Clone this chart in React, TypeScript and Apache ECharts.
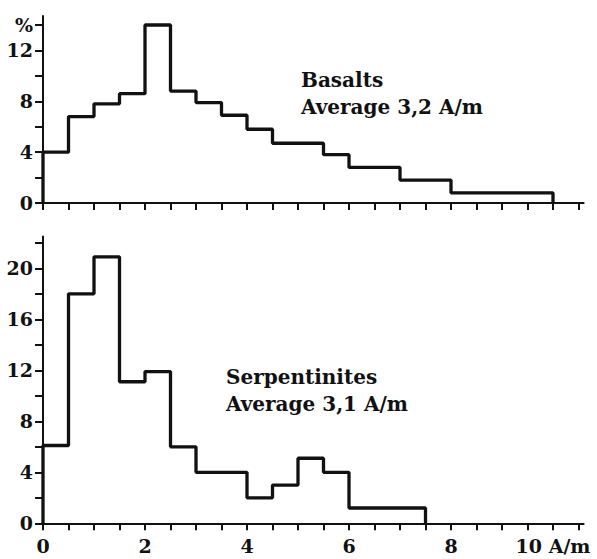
import React, { useEffect, useRef } from 'react';
import * as echarts from 'echarts';

// Axis ticks and labels
const xTickValues = [0, 0.5, 1, 1.5, 2, 2.5, 3, 3.5, 4, 4.5, 5, 5.5, 6, 6.5, 7, 7.5, 8, 8.5, 9, 9.5, 10, 10.5];
const xLabelValues = [0, 2, 4, 6, 8, 10];
const topYTicks = [0, 2, 4, 6, 8, 10, 12, 14];
const topYLabels = [0, 4, 8, 12, 14];
const bottomYTicks = [0, 2, 4, 6, 8, 10, 12, 14, 16, 18, 20, 22];
const bottomYLabels = [0, 4, 8, 12, 16, 20];

// Basalts histogram (bin left edges, last right edge, percentages)
const basaltEdges = [0, 0.5, 1, 1.5, 2, 2.5, 3, 3.5, 4, 4.5, 5.5, 6, 7, 8];
const basaltEnd = 10;
const basaltValues = [4, 6.8, 7.8, 8.6, 14, 8.8, 7.9, 6.9, 5.8, 4.7, 3.8, 2.8, 1.8, 0.8];

// Serpentinites histogram
const serpEdges = [0, 0.5, 1, 1.5, 2, 2.5, 3, 4, 4.5, 5, 5.5, 6];
const serpEnd = 7.5;
const serpValues = [6.1, 18, 20.9, 11.1, 11.9, 6, 4, 2, 3, 5.1, 4, 1.2];

const FONT = 'DejaVu Serif';
const INK = '#111111';

function stepData(edges: number[], values: number[], end: number) {
  const d: number[][] = [[edges[0], 0]];
  edges.forEach((e, i) => d.push([e, values[i]]));
  d.push([end, values[values.length - 1]]);
  d.push([end, 0]);
  return d;
}

export default function App() {
  const ref = useRef<HTMLDivElement>(null);
  useEffect(() => {
    document.body.style.margin = '0';
    if (!ref.current) return;
    const chart = echarts.init(ref.current, undefined, { renderer: 'svg' });
    const axisLine = { show: true, onZero: false, lineStyle: { color: INK, width: 2 } };
    const axisTickBase = { show: true, inside: false, length: 7, lineStyle: { color: INK, width: 2 } };
    const labelBase = { color: INK, fontFamily: FONT, fontWeight: 'bold' as const, fontSize: 19 };

    const xAxisBase = (showLabels: boolean, gridIndex: number) => ({
      type: 'value' as const,
      gridIndex,
      min: 0,
      max: 10.6,
      axisLine,
      axisTick: { ...axisTickBase, customValues: xTickValues },
      axisLabel: showLabels
        ? {
            ...labelBase,
            margin: 13,
            customValues: xLabelValues,
            formatter: (v: number) => (v === 10 ? '10 A/m' : String(v)),
          }
        : { show: false },
      splitLine: { show: false },
    });

    const option: any = {
      animation: false,
      backgroundColor: '#ffffff',
      grid: [
        { left: 43, width: 540.6, top: 16.1, height: 186.9, outerBoundsMode: 'none' },
        { left: 43, width: 540.6, top: 236.4, height: 286.9, outerBoundsMode: 'none' },
      ],
      xAxis: [xAxisBase(false, 0), xAxisBase(true, 1)],
      yAxis: [
        {
          type: 'value',
          gridIndex: 0,
          min: 0,
          max: 14.7,
          axisLine,
          axisTick: { ...axisTickBase, length: 8, customValues: topYTicks },
          axisLabel: {
            ...labelBase,
            margin: 10,
            customValues: topYLabels,
            formatter: (v: number) => (v === 14 ? '%' : String(v)),
          },
          splitLine: { show: false },
        },
        {
          type: 'value',
          gridIndex: 1,
          min: 0,
          max: 22.5,
          axisLine,
          axisTick: { ...axisTickBase, length: 8, customValues: bottomYTicks },
          axisLabel: { ...labelBase, margin: 10, customValues: bottomYLabels },
          splitLine: { show: false },
        },
      ],
      series: [
        {
          type: 'line',
          xAxisIndex: 0,
          yAxisIndex: 0,
          step: 'end',
          symbol: 'none',
          clip: false,
          lineStyle: { color: INK, width: 3.3 },
          data: stepData(basaltEdges, basaltValues, basaltEnd),
        },
        {
          type: 'line',
          xAxisIndex: 1,
          yAxisIndex: 1,
          step: 'end',
          symbol: 'none',
          clip: false,
          lineStyle: { color: INK, width: 3.3 },
          data: stepData(serpEdges, serpValues, serpEnd),
        },
      ],
      graphic: [
        {
          type: 'text',
          left: 301,
          top: 66,
          style: {
            text: 'Basalts\nAverage 3,2 A/m',
            fill: INK,
            font: `bold 20px "${FONT}"`,
            lineHeight: 27,
          },
        },
        {
          type: 'text',
          left: 226,
          top: 363,
          style: {
            text: 'Serpentinites\nAverage 3,1 A/m',
            fill: INK,
            font: `bold 20px "${FONT}"`,
            lineHeight: 27,
          },
        },
      ],
    };
    chart.setOption(option);
    return () => chart.dispose();
  }, []);
  return <div ref={ref} style={{ width: 597, height: 559 }} />;
}
